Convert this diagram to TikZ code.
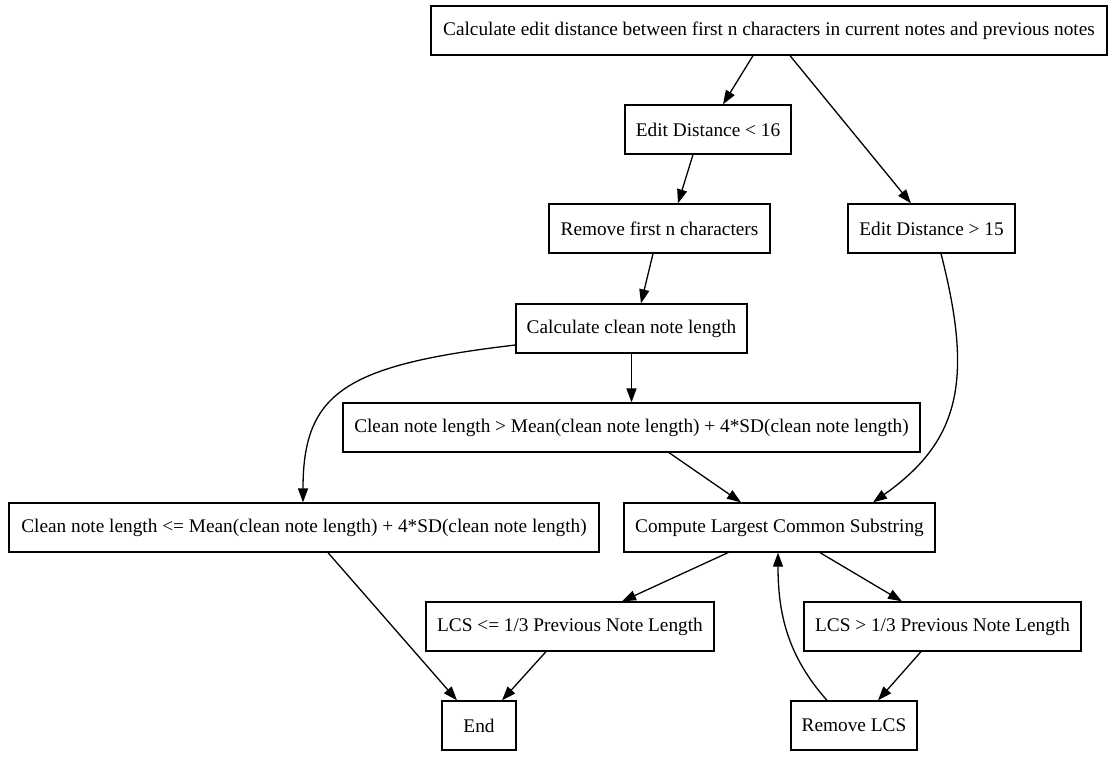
\documentclass[tikz,border=0pt]{standalone}
\usepackage{fontspec}
\setmainfont{Liberation Serif}
\usetikzlibrary{arrows.meta,calc}
\begin{document}
\begin{tikzpicture}[x=1pt,y=-1pt,
  box/.style={draw=black,line width=1.3pt,rectangle,inner sep=0pt,font=\fontsize{19.3}{22}\selectfont},
  arr/.style={line width=1.3pt,-{Triangle[length=14pt,width=10pt]}}]
\useasboundingbox (0,0) rectangle (1112,761);
\fill[white] (0,0) rectangle (1112,761);
\node[box,minimum width=676pt,minimum height=49pt] (top) at (769,30.5) {\raisebox{-1.5pt}{Calculate edit distance between first n characters in current notes and previous notes}};
\node[box,minimum width=166pt,minimum height=49pt] (ed16) at (708,129.5) {\raisebox{-1.5pt}{Edit Distance < 16}};
\node[box,minimum width=221pt,minimum height=49pt] (rem) at (659.5,228.5) {\raisebox{-1.5pt}{Remove first n characters}};
\node[box,minimum width=167pt,minimum height=49pt] (ed15) at (931.5,228.5) {\raisebox{-1.5pt}{Edit Distance > 15}};
\node[box,minimum width=231pt,minimum height=49pt] (calc) at (631.5,328.5) {\raisebox{-1.5pt}{Calculate clean note length}};
\node[box,minimum width=577pt,minimum height=49pt] (gt) at (631.5,427.5) {\raisebox{-1.5pt}{Clean note length > Mean(clean note length) + 4*SD(clean note length)}};
\node[box,minimum width=590pt,minimum height=49pt] (le) at (304,527.5) {\raisebox{-1.5pt}{Clean note length <= Mean(clean note length) + 4*SD(clean note length)}};
\node[box,minimum width=311pt,minimum height=49pt] (lcs) at (779.5,527.5) {\raisebox{-1.5pt}{Compute Largest Common Substring}};
\node[box,minimum width=288pt,minimum height=49pt] (lcsle) at (570,626.5) {\raisebox{-1.5pt}{LCS <= 1/3 Previous Note Length}};
\node[box,minimum width=277pt,minimum height=49pt] (lcsgt) at (942.5,626.5) {\raisebox{-1.5pt}{LCS > 1/3 Previous Note Length}};
\node[box,minimum width=74pt,minimum height=49pt] (end) at (479,725.5) {\raisebox{-1.5pt}{End}};
\node[box,minimum width=126pt,minimum height=49pt] (rlcs) at (854,725.5) {\raisebox{-1.5pt}{Remove LCS}};

\draw[arr] ([xshift=-16pt]top.south) -- ([xshift=15pt]ed16.north);
\draw[arr] ([xshift=21pt]top.south) -- ([xshift=-20.5pt]ed15.north);
\draw[arr] ([xshift=-15pt]ed16.south) -- ([xshift=18.5pt]rem.north);
\draw[arr] ([xshift=-6.5pt]rem.south) -- ([xshift=9.5pt]calc.north);
\draw[arr] ([xshift=9.5pt]ed15.south) .. controls +(32,125) and +(88,-62) .. ([xshift=93.5pt]lcs.north);
\draw[arr] (calc.south) -- (gt.north);
\draw[arr] ([yshift=-16.5pt]calc.west) .. controls +(-170,20) and +(0,-110) .. ([xshift=-1pt]le.north);
\draw[arr] ([xshift=37.5pt]gt.south) -- ([xshift=-38.5pt]lcs.north);
\draw[arr] ([xshift=-51.5pt]lcs.south) -- ([xshift=52pt]lcsle.north);
\draw[arr] ([xshift=40.5pt]lcs.south) -- ([xshift=-40.5pt]lcsgt.north);
\draw[arr] ([xshift=-24pt]lcsle.south) -- ([xshift=23pt]end.north);
\draw[arr] ([xshift=24pt]le.south) -- ([xshift=-22pt]end.north);
\draw[arr] ([xshift=-21.5pt]lcsgt.south) -- ([xshift=24pt]rlcs.north);
\draw[arr] ([xshift=-27pt]rlcs.north) .. controls +(-40,-45) and +(0,60) .. ([xshift=-1.5pt]lcs.south);
\end{tikzpicture}
\end{document}
